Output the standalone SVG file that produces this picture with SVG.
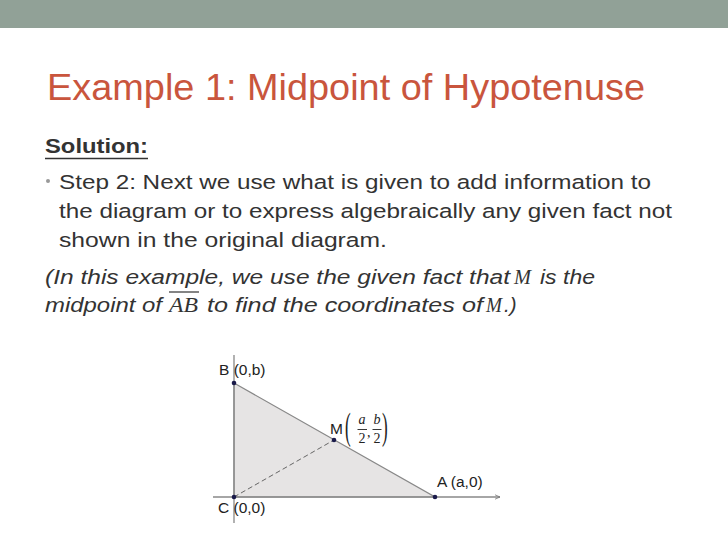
<svg xmlns="http://www.w3.org/2000/svg" width="728" height="546" viewBox="0 0 728 546">
<defs>
<style>
.t{font-family:"Liberation Sans",Arial,sans-serif;fill:#333;font-size:20.5px}
.it{font-style:italic}
.lbl{font-family:"Liberation Sans",Arial,sans-serif;font-size:15.5px;fill:#222}
.m{font-family:"Liberation Serif","Times New Roman",serif;font-style:italic;fill:#333;font-size:22px}
.f{font-family:"Liberation Serif","Times New Roman",serif;font-size:14px;fill:#222}
.pt{fill:#1a1a4a}
</style>
<marker id="arr" markerWidth="6" markerHeight="6" refX="5" refY="3" orient="auto" markerUnits="userSpaceOnUse">
<path d="M0,0.8 L5,3 L0,5.2" fill="none" stroke="#777" stroke-width="0.8"/>
</marker>
</defs>
<rect width="728" height="546" fill="#fff"/>
<rect width="728" height="28" fill="#91a197"/>
<g id="title">
<text x="47" y="100" font-family="'Liberation Sans',Arial,sans-serif" font-size="37" fill="#c9553d" textLength="598" lengthAdjust="spacingAndGlyphs">Example 1: Midpoint of Hypotenuse</text>
</g>
<g id="body">
<text class="t" x="45" y="153" font-weight="bold" textLength="103" lengthAdjust="spacingAndGlyphs">Solution:</text>
<line x1="45" y1="158.5" x2="148" y2="158.5" stroke="#333" stroke-width="1.6"/>
<circle cx="48" cy="181" r="2" fill="#999"/>
<text class="t" x="59" y="189" textLength="592" lengthAdjust="spacingAndGlyphs">Step 2: Next we use what is given to add information to</text>
<text class="t" x="59" y="218" textLength="613" lengthAdjust="spacingAndGlyphs">the diagram or to express algebraically any given fact not</text>
<text class="t" x="59" y="247" textLength="328" lengthAdjust="spacingAndGlyphs">shown in the original diagram.</text>
<text class="t it" x="45" y="284" textLength="465" lengthAdjust="spacingAndGlyphs">(In this example, we use the given fact that</text>
<text class="m" x="514" y="284" textLength="17" lengthAdjust="spacingAndGlyphs">M</text>
<text class="t it" x="540" y="284" textLength="55" lengthAdjust="spacingAndGlyphs">is the</text>
<text class="t it" x="45" y="312" textLength="117" lengthAdjust="spacingAndGlyphs">midpoint of</text>
<text class="m" x="169" y="312" textLength="29" lengthAdjust="spacingAndGlyphs">AB</text>
<line x1="169" y1="292" x2="199" y2="292" stroke="#333" stroke-width="1.2"/>
<text class="t it" x="207" y="312" textLength="276" lengthAdjust="spacingAndGlyphs">to find the coordinates of</text>
<text class="m" x="486" y="312" textLength="16" lengthAdjust="spacingAndGlyphs">M</text>
<text class="t it" x="504" y="312">.)</text>
</g>
<g id="triangle">
<polygon points="234,383 435,497 234,497" fill="#e6e4e4" stroke="#888" stroke-width="1.2"/>
</g>
<g id="connectors">
<line x1="234" y1="355" x2="234" y2="523" stroke="#888" stroke-width="1.3"/>
<line x1="213" y1="497" x2="500" y2="497" stroke="#888" stroke-width="1.3" marker-end="url(#arr)"/>
<line x1="234" y1="497" x2="334" y2="440" stroke="#666" stroke-width="1" stroke-dasharray="5,3"/>
</g>
<g id="B"><circle class="pt" cx="234" cy="383" r="2.3"/><text class="lbl" x="219" y="375">B (0,b)</text></g>
<g id="C"><circle class="pt" cx="234" cy="497" r="2.3"/><text class="lbl" x="218" y="513">C (0,0)</text></g>
<g id="A"><circle class="pt" cx="435" cy="497" r="2.3"/><text class="lbl" x="437" y="487">A (a,0)</text></g>
<g id="M"><circle class="pt" cx="334" cy="440" r="2.3"/>
<text class="lbl" x="330" y="434">M</text>
<text x="345" y="439" font-family="'Liberation Serif',serif" font-size="38" fill="#222" transform="translate(345 439) scale(0.45 1) translate(-345 -439)">(</text>
<text x="358.5" y="424" class="f" font-style="italic">a</text>
<line x1="357.5" y1="429.5" x2="367" y2="429.5" stroke="#222" stroke-width="0.9"/>
<text x="358.5" y="443" class="f">2</text>
<text x="367" y="437" class="f">,</text>
<text x="373.5" y="424" class="f" font-style="italic">b</text>
<line x1="372.5" y1="429.5" x2="381.5" y2="429.5" stroke="#222" stroke-width="0.9"/>
<text x="373.5" y="443" class="f">2</text>
<text x="382" y="439" font-family="'Liberation Serif',serif" font-size="38" fill="#222" transform="translate(382 439) scale(0.45 1) translate(-382 -439)">)</text>
</g>
</svg>
